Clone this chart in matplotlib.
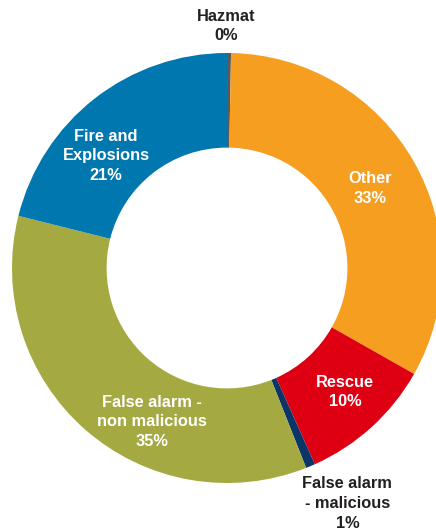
import matplotlib
matplotlib.use("Agg")
import matplotlib.pyplot as plt

# Data
categories = ["Hazmat", "Other", "Rescue", "False alarm - malicious",
              "False alarm - non malicious", "Fire and Explosions"]
values = [0.3, 32.9, 10.1, 0.7, 34.9, 21.1]
label_texts = ["Hazmat\n0%", "Other\n33%", "Rescue\n10%", "False alarm\n- malicious\n1%",
               "False alarm -\nnon malicious\n35%", "Fire and\nExplosions\n21%"]

colors = ["#5a5a5a", "#F59E20", "#DE0012", "#0B3566", "#A4A941", "#0077AE"]
label_colors = ["#231f20", "white", "white", "#231f20", "white", "white"]
label_pos = [(-0.005, 1.126), (0.665, 0.370), (0.549, -0.577), (0.560, -1.095),
             (-0.349, -0.716), (-0.563, 0.521)]

plt.rcParams['font.family'] = ['Liberation Sans', 'DejaVu Sans']

W, H = 436, 531
fig = plt.figure(figsize=(W / 100, H / 100), dpi=100)
ax = fig.add_axes([0, 0, 1, 1])

ax.pie(values, colors=colors, startangle=90, counterclock=False,
       radius=1.0, wedgeprops=dict(width=0.44, edgecolor='none', linewidth=0))

cx, cy, R = 227, 268, 215
ax.set_xlim(-cx / R, (W - cx) / R)
ax.set_ylim(-(H - cy) / R, cy / R)
ax.set_aspect('auto')
ax.axis('off')

for txt, (x, y), c in zip(label_texts, label_pos, label_colors):
    ax.text(x, y, txt, ha='center', va='center', color=c, fontsize=11.8,
            fontweight='bold', linespacing=1.4)

fig.savefig("out.png", dpi=100)
